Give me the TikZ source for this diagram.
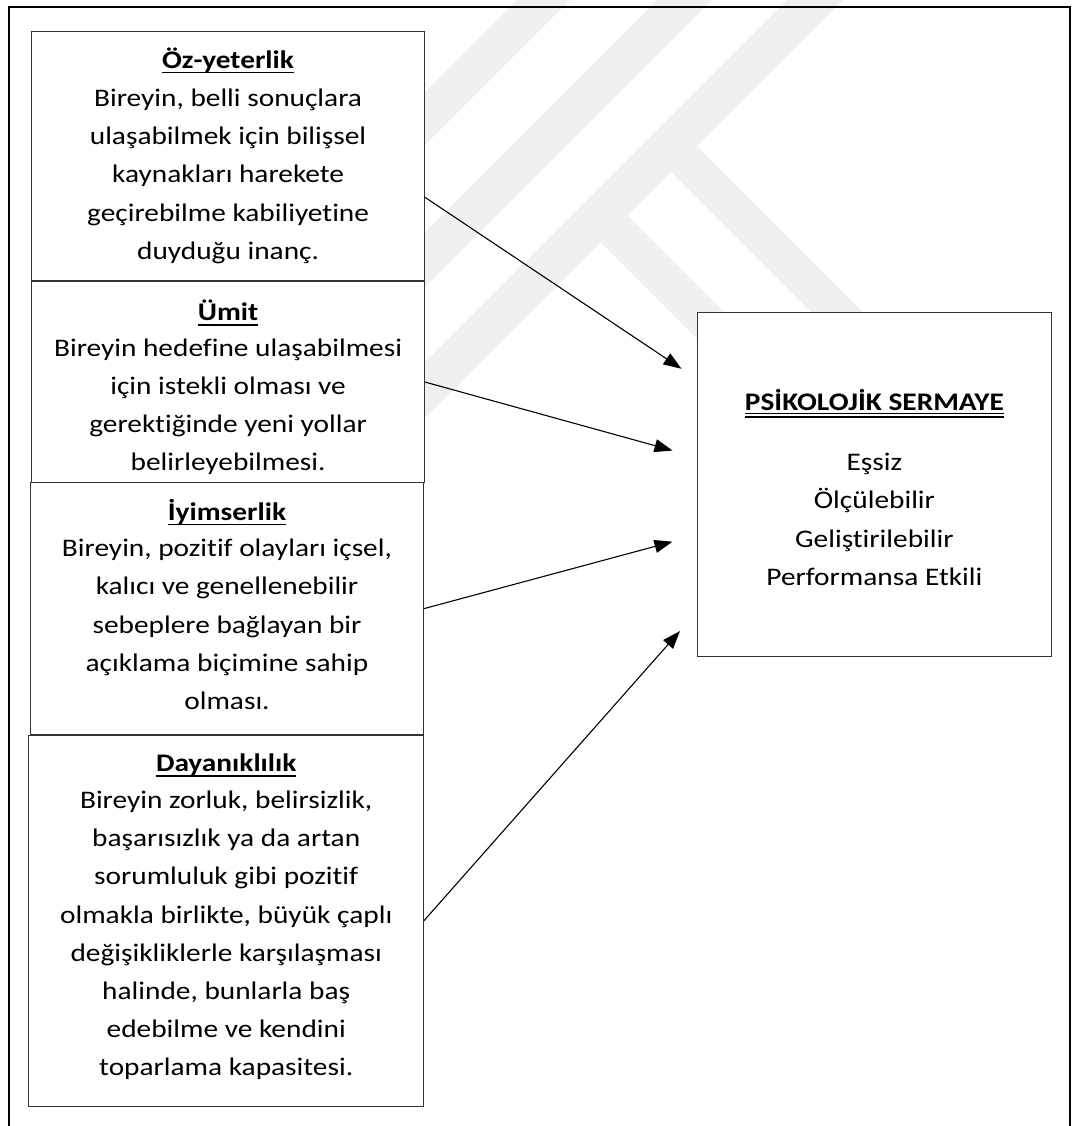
\documentclass[tikz,border=0pt]{standalone}
\usepackage{fontspec}
\setmainfont{Carlito}[Ligatures=NoCommon, FakeStretch=1.16]
\usetikzlibrary{arrows.meta}

% single and double underline drawn as rules under the text
\newcommand\myul[1]{\setbox0=\hbox{#1}\rlap{\rule[-5.2pt]{\wd0}{1.7pt}}\box0}
\newcommand\mydul[1]{\setbox0=\hbox{#1}\rlap{\rule[-3.4pt]{\wd0}{1.2pt}}\rlap{\rule[-6.8pt]{\wd0}{1.2pt}}\box0}

\begin{document}
\begin{tikzpicture}[x=1pt,y=-1pt,
  box/.style={draw=black!80, line width=1.1pt, fill=white, inner sep=0pt, outer sep=0pt, rectangle},
  txt/.style={anchor=base, inner sep=0pt, font=\fontsize{25.3}{38.2}\selectfont},
  conn/.style={-{Triangle[length=18pt,width=13pt]}, line width=1.1pt},
  wm/.style={fill=black!6, draw=none}]
\useasboundingbox (0,0) rectangle (1072,1126);

% faint background bands
\begin{scope}
  \clip (0,0) rectangle (1072,480);
  \fill[wm] (517,0) -- (570,0) -- (90,480) -- (37,480) -- cycle;
  \fill[wm] (657,0) -- (712,0) -- (232,480) -- (177,480) -- cycle;
  \fill[wm] (787,0) -- (843,0) -- (363,480) -- (307,480) -- cycle;
  \fill[wm] (697,146) -- (1031,480) -- (979,480) -- (671,172) -- cycle;
  \fill[wm] (627.5,215.5) -- (892,480) -- (838,480) -- (600.5,242.5) -- cycle;
\end{scope}

% outer frame
\draw[line width=2pt] (9,1126) -- (9,7.3) -- (1069.5,7.3) -- (1069.5,1126);

% left column
\node[box, minimum width=392.8pt, minimum height=249pt] (b1) at (228.1,156.2) {};
\node[txt] (t1) at (228.1,68.3) {\begin{tabular}[t]{@{}c@{}}
  \myul{\textbf{Öz-yeterlik}}\\
  Bireyin, belli sonuçlara\\
  ulaşabilmek için bilişsel\\
  kaynakları harekete\\
  geçirebilme kabiliyetine\\
  duyduğu inanç.\end{tabular}};

\node[box, minimum width=392.8pt, minimum height=201.7pt] (b2) at (228.1,381.9) {};
\node[txt] (t2) at (228.1,320.5) {\begin{tabular}[t]{@{}c@{}}
  \myul{\textbf{Ümit}}\\[-2.5pt]
  Bireyin hedefine ulaşabilmesi\\
  için istekli olması ve\\
  gerektiğinde yeni yollar\\
  belirleyebilmesi.\end{tabular}};

\node[box, minimum width=393.5pt, minimum height=252pt] (b3) at (227,608.7) {};
\node[txt] (t3) at (227,520) {\begin{tabular}[t]{@{}c@{}}
  \myul{\textbf{İyimserlik}}\\[-1.5pt]
  Bireyin, pozitif olayları içsel,\\
  kalıcı ve genellenebilir\\
  sebeplere bağlayan bir\\
  açıklama biçimine sahip\\
  olması.\end{tabular}};

\node[box, minimum width=395.2pt, minimum height=371.7pt] (b4) at (226.2,920.9) {};
\node[txt] (t4) at (226.2,771.7) {\begin{tabular}[t]{@{}c@{}}
  \myul{\textbf{Dayanıklılık}}\\[-1.5pt]
  Bireyin zorluk, belirsizlik,\\
  başarısızlık ya da artan\\
  sorumluluk gibi pozitif\\
  olmakla birlikte, büyük çaplı\\
  değişikliklerle karşılaşması\\
  halinde, bunlarla baş\\
  edebilme ve kendini\\
  toparlama kapasitesi.\end{tabular}};

% right box
\node[box, minimum width=353.3pt, minimum height=344.4pt] (ps) at (874.4,484.5) {};
\node[txt] (tps) at (874.4,410.7) {\begin{tabular}[t]{@{}c@{}}
  \mydul{\textbf{PSİKOLOJİK SERMAYE}}\\[21.8pt]
  Eşsiz\\
  Ölçülebilir\\
  Geliştirilebilir\\
  Performansa Etkili\end{tabular}};

% arrow tips in front of the right box
\coordinate (p1) at (681.5,368.8);
\coordinate (p2) at (672.5,450.5);
\coordinate (p3) at (672.5,541.7);
\coordinate (p4) at (680,631);

\draw[conn] ([yshift=-40.8pt]b1.east) -- (p1);
\draw[conn] (b2.east) -- (p2);
\draw[conn] (b3.east) -- (p3);
\draw[conn] (b4.east) -- (p4);
\end{tikzpicture}
\end{document}
